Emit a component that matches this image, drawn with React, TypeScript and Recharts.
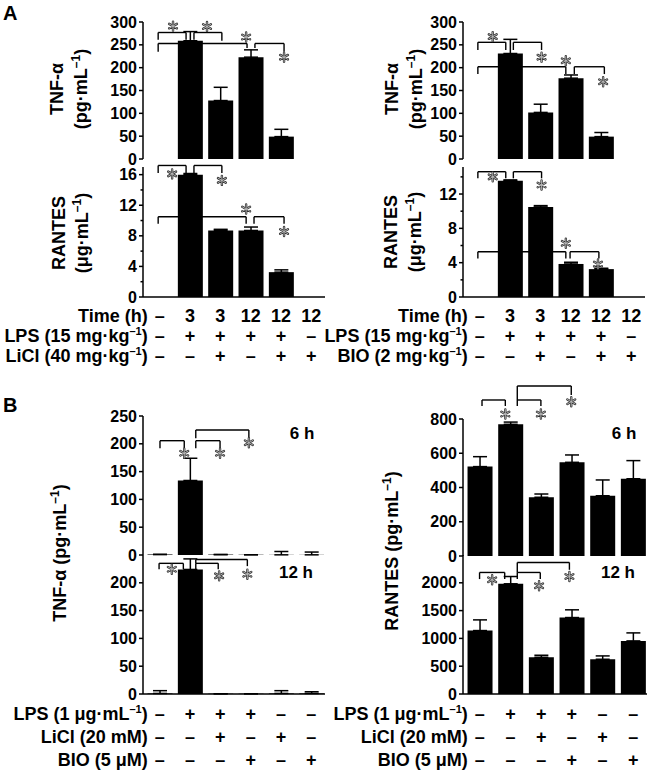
import React from 'react';
import { BarChart, Bar, XAxis, YAxis, ErrorBar, ReferenceLine, ReferenceDot } from 'recharts';

const FONT = '"Liberation Sans", Arial, sans-serif';

// ---------- Panel A data ----------
const timeA = ['–', '3', '3', '12', '12', '12'];
const lpsA = ['–', '+', '+', '+', '+', '–'];
const liclA = ['–', '–', '+', '–', '+', '+'];
const bioA = ['–', '–', '+', '–', '+', '+'];

const tnfLiclMean = [0, 259, 128, 223, 49, 0];
const tnfLiclSem = [0, 20, 29, 16, 16, 0];
const rantesLiclMean = [0, 16.0, 8.7, 8.7, 3.25, 0];
const rantesLiclSem = [0, 0.15, 0.15, 0.45, 0.3, 0];
const tnfBioMean = [0, 231, 102, 177, 49, 0];
const tnfBioSem = [0, 31, 18, 7, 9, 0];
const rantesBioMean = [0, 13.55, 10.5, 3.85, 3.25, 0];
const rantesBioSem = [0, 0.1, 0.15, 0.2, 0.1, 0];

// ---------- Panel B data ----------
const lpsB = ['–', '+', '+', '+', '–', '–'];
const liclB = ['–', '–', '+', '–', '+', '–'];
const bioB = ['–', '–', '–', '+', '–', '+'];

const tnf6Mean = [1, 134, 0.8, 0.5, 0.3, 0.3];
const tnf6Sem = [0, 40, 0, 0, 6, 5];
const tnf12Mean = [1, 224, 0.5, 0.5, 1, 1];
const tnf12Sem = [5, 19, 0, 0, 5, 3];
const rantes6Mean = [522, 769, 343, 547, 352, 451];
const rantes6Sem = [58, 13, 19, 43, 92, 106];
const rantes12Mean = [1141, 1982, 661, 1375, 625, 955];
const rantes12Sem = [192, 131, 36, 139, 60, 144];

// ---------- significance annotations: [x1, x2, y, leftLegEnd, rightLegEnd] ----------
type Br = [number, number, number, number, number];
type St = [number, number];

const brTnfLicl: Br[] = [[0.95, 1.87, 277, 261, 261], [2.13, 3.05, 277, 261, 259], [0.95, 3.88, 253, 235, 243], [4.14, 5.1, 253, 243, 235]];
const stTnfLicl: St[] = [[1.44, 291], [2.56, 290], [3.85, 267], [5.1, 223]];
const brRanLicl: Br[] = [[0.95, 1.87, 17.2, 16.2, 16.2], [2.13, 3.05, 17.2, 16.2, 16.2], [0.95, 3.85, 10.5, 9.57, 9.57], [4.11, 5.1, 10.5, 9.57, 9.57]];
const stRanLicl: St[] = [[1.41, 16.1], [3.05, 15.25], [3.85, 11.5], [5.1, 8.56]];
const brTnfBio: Br[] = [[0.94, 1.86, 255.5, 238.7, 238.7], [2.11, 3.04, 255.5, 238.7, 238.7], [0.94, 3.84, 202, 186, 186], [4.12, 5.11, 202, 186, 186]];
const stTnfBio: St[] = [[1.43, 268], [3.04, 223], [3.84, 215], [5.07, 169]];
const brRanBio: Br[] = [[0.94, 1.86, 14.6, 13.83, 13.83], [2.11, 3.04, 14.6, 13.83, 13.83], [0.94, 3.84, 5.28, 4.5, 4.5], [3.98, 4.93, 5.28, 4.5, 4.5]];
const stRanBio: St[] = [[1.43, 14.0], [3.04, 13.05], [3.84, 6.26], [4.9, 3.84]];

const brTnf6: Br[] = [[1.01, 1.81, 205.6, 192, 192], [2.19, 2.99, 205.6, 192, 192], [2.19, 3.94, 224.8, 210, 210]];
const stTnf6: St[] = [[1.81, 183], [2.99, 183], [3.94, 202]];
const brTnf12: Br[] = [[0.98, 1.78, 235, 224.5, 224.5], [2.19, 2.93, 235, 224.5, 224.5], [2.19, 3.89, 242, 235, 230]];
const stTnf12: St[] = [[1.4, 224.5], [2.96, 212.5], [3.89, 215.5]];
const brRan6: Br[] = [[1.07, 1.83, 911, 876, 876], [2.22, 2.99, 911, 876, 876], [2.22, 3.98, 993, 911, 940]];
const stRan6: St[] = [[1.83, 829], [2.99, 829], [3.98, 901]];
const brRan12: Br[] = [[0.99, 1.81, 2186, 2067, 2067], [2.22, 2.97, 2186, 2067, 2067], [2.22, 3.92, 2366, 2186, 2234]];
const stRan12: St[] = [[1.4, 2054], [2.93, 1946], [3.92, 2114]];

// ---------- helpers ----------
type RowDef = { label: React.ReactNode; vals: string[] };

const unitLabel = (main: string, inner: string, sup: string | null) => (
  <>
    {main}
    <tspan>{' (' + inner}</tspan>
    {sup ? <tspan fontSize={11} dy={-7}>{sup}</tspan> : null}
    <tspan dy={sup ? 7 : 0}>)</tspan>
  </>
);

const Star = (p: any) => {
  const cx = p.cx;
  const cy = p.cy;
  const r = 4.5;
  const arms = [90, 30, -30].map((a) => {
    const rad = (a * Math.PI) / 180;
    const dx = r * Math.cos(rad);
    const dy = r * Math.sin(rad);
    return `M${cx - dx},${cy - dy}L${cx + dx},${cy + dy}`;
  });
  const d = arms.join('');
  return (
    <g>
      <path d={d} stroke="#333" strokeWidth={2.4} strokeLinecap="round" fill="none" />
      <path d={d} stroke="#bbb" strokeWidth={0.9} strokeLinecap="round" fill="none" />
    </g>
  );
};

const makeTick = (rows: RowDef[], offsets: number[]) => (p: any) => {
  const i = Math.round(p.payload.value) - 1;
  return (
    <g>
      {rows.map((r, k) => (
        <g key={k}>
          <text x={p.x} y={p.y + offsets[k]} textAnchor="middle" fontSize={18} fontWeight="bold" fontFamily={FONT} fill="#000">
            {r.vals[i]}
          </text>
          {i === 0 ? (
            <text x={p.x - 12} y={p.y + offsets[k]} textAnchor="end" fontSize={18} fontWeight="bold" fontFamily={FONT} fill="#000">
              {r.label}
            </text>
          ) : null}
        </g>
      ))}
    </g>
  );
};

// y-axis tick: draws its own tick mark (short for unlabelled minor ticks) and label
const makeYTick = (fmt?: (v: number) => string) => (p: any) => {
  const v = p.payload.value;
  const label = fmt ? fmt(v) : String(v);
  const axisX = p.x + 6;
  const len = label === '' ? 2.5 : 4;
  return (
    <g>
      <line x1={axisX - len} x2={axisX} y1={p.y} y2={p.y} stroke="#000" strokeWidth={1.5} />
      <text x={p.x} y={p.y} dy={5.5} textAnchor="end" fontSize={16} fontWeight="bold" fontFamily={FONT} fill="#000">
        {label}
      </text>
    </g>
  );
};

interface PanelProps {
  left: number; top: number; w: number; h: number;
  px0: number; px1: number; py0: number; py1: number;
  domain: [number, number]; ticks: number[]; fmt?: (v: number) => string;
  mean: number[]; sem: number[];
  brackets: Br[]; stars: St[];
  rows?: RowDef[]; offsets?: number[];
}

function Panel(props: PanelProps) {
  const { left, top, w, h, px0, px1, py0, py1, domain, ticks, fmt, mean, sem, brackets, stars, rows, offsets } = props;
  const yw = 40;
  const xh = rows ? h - (py1 - top) : 0;
  const data = mean.map((v, i) => ({ x: i + 1, v, e: [0, sem[i]] }));
  const margin = {
    left: px0 - left - yw,
    right: left + w - px1,
    top: py0 - top,
    bottom: h - (py1 - top) - xh,
  };
  const lines: React.ReactElement[] = [];
  brackets.forEach(([x1, x2, y, l1, l2], i) => {
    lines.push(<ReferenceLine key={'l' + i} segment={[{ x: x1, y: l1 }, { x: x1, y }]} stroke="#000" strokeWidth={1.4} ifOverflow="visible" />);
    lines.push(<ReferenceLine key={'t' + i} segment={[{ x: x1, y }, { x: x2, y }]} stroke="#000" strokeWidth={1.4} ifOverflow="visible" />);
    lines.push(<ReferenceLine key={'r' + i} segment={[{ x: x2, y }, { x: x2, y: l2 }]} stroke="#000" strokeWidth={1.4} ifOverflow="visible" />);
  });
  return (
    <div style={{ position: 'absolute', left, top, width: w, height: h }}>
      <BarChart width={w} height={h} data={data} margin={margin}>
        <XAxis
          type="number" dataKey="x" domain={[0.45, 6.45]} ticks={[1, 2, 3, 4, 5, 6]} interval={0}
          allowDataOverflow height={xh} axisLine={{ stroke: '#000', strokeWidth: 1.5 }}
          tickLine={false} tickSize={0} tickMargin={0}
          tick={rows && offsets ? makeTick(rows, offsets) : false}
        />
        <YAxis
          type="number" domain={domain} ticks={ticks} interval={0} allowDataOverflow width={yw}
          tickSize={4} tickMargin={2}
          axisLine={{ stroke: '#000', strokeWidth: 1.5 }} tickLine={false}
          tick={makeYTick(fmt)}
        />
        <Bar dataKey="v" fill="#000" barSize={25} isAnimationActive={false}>
          <ErrorBar dataKey="e" width={7} stroke="#000" strokeWidth={1.5} />
        </Bar>
        {lines}
        {stars.map(([x, y], i) => (
          <ReferenceDot key={'s' + i} x={x} y={y} r={0} ifOverflow="visible" shape={Star} />
        ))}
      </BarChart>
    </div>
  );
}

const rowsAL: RowDef[] = [
  { label: 'Time (h)', vals: timeA },
  { label: unitLabel('LPS', '15 mg·kg', '–1'), vals: lpsA },
  { label: unitLabel('LiCl', '40 mg·kg', '–1'), vals: liclA },
];
const rowsAR: RowDef[] = [
  { label: 'Time (h)', vals: timeA },
  { label: unitLabel('LPS', '15 mg·kg', '–1'), vals: lpsA },
  { label: unitLabel('BIO', '2 mg·kg', '–1'), vals: bioA },
];
const rowsB: RowDef[] = [
  { label: unitLabel('LPS', '1 μg·mL', '–1'), vals: lpsB },
  { label: unitLabel('LiCl', '20 mM', null), vals: liclB },
  { label: unitLabel('BIO', '5 μM', null), vals: bioB },
];

const tnfTicks = [0, 50, 100, 150, 200, 250, 300];
const ranATicks = [0, 2, 4, 6, 8, 10, 12, 14, 16];
const ranBTicks = [0, 2, 4, 6, 8, 10, 12, 14];
const every4 = (v: number) => (v % 4 === 0 ? String(v) : '');
const tnfBTicks6 = [0, 50, 100, 150, 200, 250];
const tnfBTicks12 = [0, 50, 100, 150, 200];
const ran6Ticks = [0, 200, 400, 600, 800];
const ran12Ticks = [0, 500, 1000, 1500, 2000];

const txt = { fontFamily: FONT, fontWeight: 'bold' as const, fill: '#000' };

const RotLabel = ({ x, y, children, size = 18 }: { x: number; y: number; children: React.ReactNode; size?: number }) => (
  <text transform={`translate(${x},${y}) rotate(-90)`} textAnchor="middle" fontSize={size} {...txt}>
    {children}
  </text>
);

const unitSup = (pre: string, unit: string) => (
  <>
    {pre}({unit}
    <tspan fontSize={12} dy={-7}>–1</tspan>
    <tspan dy={7}>)</tspan>
  </>
);

export default function App() {
  return (
    <div style={{ position: 'absolute', left: 0, top: 0, width: 650, height: 773, background: '#fff', overflow: 'hidden' }}>
      <svg width={650} height={773} style={{ position: 'absolute', left: 0, top: 0 }}>
        <text x={3} y={20} fontSize={20} {...txt}>A</text>
        <text x={3} y={412} fontSize={20} {...txt}>B</text>
        <RotLabel x={63} y={89}>TNF-α</RotLabel>
        <RotLabel x={87} y={89}>{unitSup('', 'pg·mL')}</RotLabel>
        <RotLabel x={65} y={233}>RANTES</RotLabel>
        <RotLabel x={88} y={233}>{unitSup('', 'μg·mL')}</RotLabel>
        <RotLabel x={398} y={89}>TNF-α</RotLabel>
        <RotLabel x={422} y={89}>{unitSup('', 'pg·mL')}</RotLabel>
        <RotLabel x={397} y={232}>RANTES</RotLabel>
        <RotLabel x={421} y={232}>{unitSup('', 'μg·mL')}</RotLabel>
        <RotLabel x={66} y={553}>{unitSup('TNF-α ', 'pg·mL')}</RotLabel>
        <RotLabel x={398} y={551}>{unitSup('RANTES ', 'pg·mL')}</RotLabel>
        <text x={302} y={439} textAnchor="middle" fontSize={17} {...txt}>6 h</text>
        <text x={296} y={578} textAnchor="middle" fontSize={17} {...txt}>12 h</text>
        <text x={624} y={439} textAnchor="middle" fontSize={17} {...txt}>6 h</text>
        <text x={618} y={578} textAnchor="middle" fontSize={17} {...txt}>12 h</text>
      </svg>

      {/* Panel A left (LiCl) */}
      <Panel left={0} top={0} w={330} h={172} px0={143} px1={325} py0={22} py1={159}
        domain={[0, 300]} ticks={tnfTicks} mean={tnfLiclMean} sem={tnfLiclSem}
        brackets={brTnfLicl} stars={stTnfLicl} />
      <Panel left={0} top={160} w={330} h={212} px0={143} px1={325} py0={167} py1={297}
        domain={[0, 17]} ticks={ranATicks} fmt={every4} mean={rantesLiclMean} sem={rantesLiclSem}
        brackets={brRanLicl} stars={stRanLicl} rows={rowsAL} offsets={[25, 45, 65]} />

      {/* Panel A right (BIO) */}
      <Panel left={316} top={0} w={334} h={172} px0={463} px1={645} py0={22} py1={159}
        domain={[0, 300]} ticks={tnfTicks} mean={tnfBioMean} sem={tnfBioSem}
        brackets={brTnfBio} stars={stTnfBio} />
      <Panel left={316} top={160} w={334} h={212} px0={463} px1={645} py0={167} py1={297}
        domain={[0, 15.15]} ticks={ranBTicks} fmt={every4} mean={rantesBioMean} sem={rantesBioSem}
        brackets={brRanBio} stars={stRanBio} rows={rowsAR} offsets={[25, 45, 65]} />

      {/* Panel B left (TNF) */}
      <Panel left={0} top={400} w={330} h={168} px0={143} px1={325} py0={416} py1={555}
        domain={[0, 250]} ticks={tnfBTicks6} mean={tnf6Mean} sem={tnf6Sem}
        brackets={brTnf6} stars={stTnf6} />
      <Panel left={0} top={540} w={330} h={233} px0={143} px1={325} py0={555} py1={694}
        domain={[0, 250]} ticks={tnfBTicks12} mean={tnf12Mean} sem={tnf12Sem}
        brackets={brTnf12} stars={stTnf12} rows={rowsB} offsets={[26, 49, 72]} />

      {/* Panel B right (RANTES) */}
      <Panel left={316} top={375} w={334} h={193} px0={463} px1={647} py0={419} py1={556}
        domain={[0, 800]} ticks={ran6Ticks} mean={rantes6Mean} sem={rantes6Sem}
        brackets={brRan6} stars={stRan6} />
      <Panel left={316} top={540} w={334} h={233} px0={463} px1={647} py0={555} py1={694}
        domain={[0, 2500]} ticks={ran12Ticks} mean={rantes12Mean} sem={rantes12Sem}
        brackets={brRan12} stars={stRan12} rows={rowsB} offsets={[26, 49, 72]} />
    </div>
  );
}
